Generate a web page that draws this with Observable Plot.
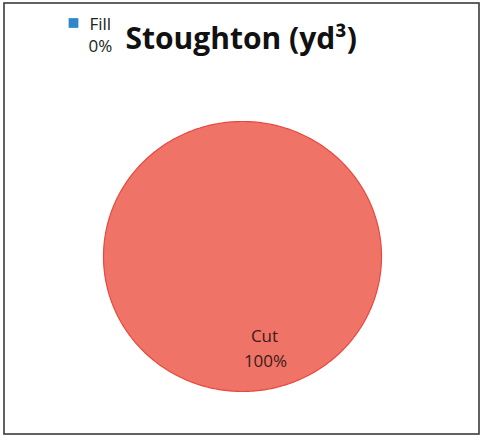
<!DOCTYPE html>
<html><head><meta charset="utf-8">
<script src="https://cdn.jsdelivr.net/npm/d3@7"></script>
<script src="https://cdn.jsdelivr.net/npm/@observablehq/plot@0.6"></script>
<style>body{margin:0;background:#fff}#chart{width:482px;height:437px}</style>
</head><body><div id="chart"></div>
<script>
const categories = ["Fill", "Cut"];
const values = [0, 1];
const labels = ["0%", "100%"];
const colors = ["#2f87c9", "#ef7367"];
const title = "Stoughton (yd³)";

const W = 482, H = 437;
const cx = 242, cy = 256, rx = 139, ry = 135;
const arcs = d3.pie().sort(null)(values);
const slicePts = [];
arcs.forEach((a, i) => {
  const span = a.endAngle - a.startAngle;
  if (span <= 0) return;
  if (span < 2 * Math.PI - 1e-9) slicePts.push({cat: categories[i], x: cx, y: cy});
  const n = Math.max(2, Math.ceil(span * 60));
  for (let k = 0; k <= n; k++) {
    const t = a.startAngle + span * k / n;
    slicePts.push({cat: categories[i], x: cx + rx * Math.sin(t), y: cy - ry * Math.cos(t)});
  }
});
const cutIdx = 1;
const cutLabel = [{x: cx + 22, y: cy + 80, t: categories[cutIdx]}, {x: cx + 23, y: cy + 105, t: labels[cutIdx]}];

const chart = Plot.plot({
  width: W, height: H, margin: 0,
  x: {domain: [0, W], range: [0, W], axis: null},
  y: {domain: [0, H], range: [0, H], axis: null},
  color: {domain: categories, range: colors},
  style: {fontFamily: "'Open Sans', sans-serif", background: "#fff"},
  marks: [
    Plot.rect([0], {x1: 4, x2: 479, y1: 3, y2: 434, fill: "none", stroke: "#3b3b3b", strokeWidth: 1.6}),
    Plot.line(slicePts, {x: "x", y: "y", z: "cat", fill: d => d.cat, stroke: "#e8483e", strokeWidth: 1.2, curve: "linear-closed"}),
    Plot.dot([categories[0]], {x: 73, y: 22.5, symbol: "square", r: 5.5, fill: d => d, stroke: null}),
    Plot.text([categories[0]], {x: 89, y: 24.5, text: d => d, textAnchor: "start", fontSize: 17, fill: "#222"}),
    Plot.text([labels[0]], {x: 88, y: 46, text: d => d, textAnchor: "start", fontSize: 17, fill: "#222"}),
    Plot.text([title], {x: 125, y: 39, text: d => d, textAnchor: "start", fontSize: 30, fontWeight: "bold", fill: "#111"}),
    Plot.text(cutLabel, {x: "x", y: "y", text: "t", fontSize: 17, fill: "#3a1c18"})
  ]
});
document.getElementById("chart").append(chart);
</script></body></html>
